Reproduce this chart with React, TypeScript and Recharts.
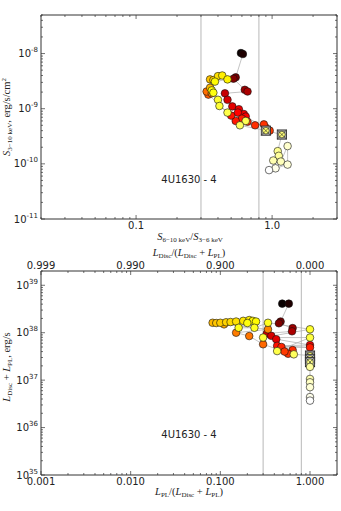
import React from "react";
import { ScatterChart, Scatter, XAxis, YAxis, ReferenceLine } from "recharts";

// upper panel: hardness S(6-10)/S(3-6) vs 3-10 keV flux (1e-9 erg/s/cm2), in time order
const hardness = [
  0.59, 0.61, 0.54, 0.52, 0.63, 0.66, 0.45, 0.47, 0.51, 0.57, 0.62, 0.64, 0.56,
  0.9, 0.96, 0.87, 0.75, 0.66, 0.6, 0.54, 0.5,
  0.34, 0.33, 0.36, 0.35, 0.35, 0.37, 0.4, 0.43, 0.47, 0.38, 0.36, 0.37,
  0.4, 0.41, 0.47, 0.64, 0.58, 0.9, 1.18, 1.1, 1.12, 1.02, 1.16, 1.3, 1.3, 1.06, 0.95,
];
const flux = [
  10.2, 9.8, 3.7, 3.5, 2.2, 2.05, 1.9, 1.45, 1.1, 0.98, 0.8, 0.72, 0.85,
  0.45, 0.4, 0.52, 0.5, 0.58, 0.66, 0.6, 0.75,
  1.8, 2.05, 1.9, 2.4, 3.4, 3.3, 3.9, 4.0, 3.4, 3.1, 2.15, 1.95,
  1.45, 1.12, 0.85, 0.6, 0.5, 0.4, 0.34, 0.17, 0.14, 0.115, 0.11, 0.21, 0.097, 0.083, 0.077,
];
const fluxPhase = [
  0.0, 0.03, 0.15, 0.17, 0.21, 0.23, 0.27, 0.29, 0.31, 0.32, 0.33, 0.34, 0.35,
  0.46, 0.45, 0.44, 0.43, 0.42, 0.41, 0.4, 0.39,
  0.5, 0.53, 0.55, 0.64, 0.66, 0.68, 0.7, 0.72, 0.73, 0.74, 0.75, 0.76,
  0.79, 0.8, 0.82, 0.83, 0.84, 0.86, 0.87, 0.89, 0.9, 0.92, 0.93, 0.95, 0.96, 0.98, 1.0,
];
const fluxBoxed = [38, 39];

// lower panel: power-law fraction vs total luminosity (1e38 erg/s)
const plFraction = [
  0.49, 0.58, 0.47, 0.45, 0.64, 0.63, 0.33, 0.37, 0.42, 1.0, 0.43, 1.0, 0.48, 0.64, 0.57, 0.52,
  0.3, 0.21, 0.15, 0.34, 0.11, 0.082, 0.09, 0.1, 0.116, 0.13, 0.15, 0.18, 0.21, 0.23, 0.25,
  0.2, 0.16, 0.24, 0.34, 1.0, 0.3, 1.0, 0.43, 0.66, 1.0, 1.0, 1.0, 1.0, 1.0, 1.0, 1.0, 1.0, 1.0,
];
const lum = [
  4.1, 4.1, 1.72, 1.58, 1.25, 1.07, 0.96, 0.86, 0.73, 0.55, 0.53, 0.49, 0.5, 0.43, 0.36, 0.4,
  0.57, 0.85, 1.0, 1.18, 1.5, 1.62, 1.6, 1.62, 1.66, 1.68, 1.72, 1.78, 1.85, 1.78, 1.72,
  1.6, 1.27, 1.27, 1.62, 1.18, 0.79, 0.79, 0.41, 0.35, 0.33, 0.28, 0.24, 0.19, 0.106, 0.09, 0.071, 0.044, 0.037,
];
const lumPhase = [
  0.0, 0.03, 0.15, 0.17, 0.21, 0.23, 0.27, 0.29, 0.31, 0.33, 0.39, 0.41, 0.42, 0.43, 0.44, 0.45,
  0.52, 0.54, 0.55, 0.56, 0.62, 0.64, 0.66, 0.67, 0.68, 0.69, 0.7, 0.71, 0.72, 0.73, 0.74,
  0.76, 0.77, 0.78, 0.78, 0.79, 0.8, 0.81, 0.82, 0.84, 0.86, 0.87, 0.88, 0.9, 0.92, 0.94, 0.96, 0.98, 1.0,
];
const lumBoxed = [40, 41, 42];

const stateEdges = [0.3, 0.8];
const topXMajor = [0.1, 1];
const topYMajor = [1e-11, 1e-10, 1e-9, 1e-8];
const botXMajor = [0.001, 0.01, 0.1, 1];
const botYMajor = [1e35, 1e36, 1e37, 1e38, 1e39];
const sourceName = "4U1630 - 4";

const frame = "#333";
const tickFont = "'DejaVu Sans', sans-serif";
const mathFont = "'Liberation Serif', serif";

// matplotlib "hot" colormap
function hot(t: number) {
  const c = (v: number) => Math.round(Math.min(1, Math.max(0, v)) * 255);
  return `rgb(${c(0.04 + t / 0.365)},${c((t - 0.365) / 0.381)},${c((t - 0.746) / 0.254)})`;
}

function rows(xs: number[], ys: number[], scale: number, phase: number[], boxed: number[]) {
  return xs.map((x, i) => ({ x, y: ys[i] * scale, fill: hot(phase[i]), boxed: boxed.includes(i) }));
}

const topRows = rows(hardness, flux, 1e-9, fluxPhase, fluxBoxed);
const botRows = rows(plFraction, lum, 1e38, lumPhase, lumBoxed);

// majors plus 2..9 minors within a range
function logTicks(majors: number[], lo: number, hi: number) {
  const out: number[] = [];
  const first = majors[0] / 10;
  for (let d = first; d <= hi * 1.001; d *= 10) {
    for (let m = 1; m < 10; m++) {
      const v = +(m * d).toPrecision(6);
      if (v >= lo * 0.999 && v <= hi * 1.001) out.push(v);
    }
  }
  return out;
}

const isMajor = (v: number) => Math.abs(Math.log10(v) - Math.round(Math.log10(v))) < 1e-6;

function Pow10({ v }: { v: number }) {
  const e = Math.round(Math.log10(v));
  return (
    <>
      10
      <tspan dy={-5} fontSize={7}>
        {e}
      </tspan>
    </>
  );
}

function makeTick(side: "left" | "right" | "top" | "bottom", label?: (v: number) => React.ReactNode) {
  return (props: any) => {
    const { x, y, payload } = props;
    const v = payload.value;
    const major = isMajor(v);
    const len = major ? 4 : 2;
    let x2 = x;
    let y2 = y;
    if (side === "left") x2 = x + len;
    if (side === "right") x2 = x - len;
    if (side === "bottom") y2 = y - len;
    if (side === "top") y2 = y + len;
    let txt = null;
    if (major && label) {
      if (side === "left")
        txt = (
          <text x={x - 3} y={y + 3.5} textAnchor="end" fontFamily={tickFont} fontSize={10} fill="#222">
            {label(v)}
          </text>
        );
      if (side === "bottom")
        txt = (
          <text x={x} y={y + 10} textAnchor="middle" fontFamily={tickFont} fontSize={10} fill="#222">
            {label(v)}
          </text>
        );
      if (side === "top")
        txt = (
          <text x={x} y={y - 2} textAnchor="middle" fontFamily={tickFont} fontSize={10} fill="#222">
            {label(v)}
          </text>
        );
    }
    return (
      <g>
        <line x1={x} y1={y} x2={x2} y2={y2} stroke={frame} strokeWidth={0.7} />
        {txt}
      </g>
    );
  };
}

function Marker(props: any) {
  const { cx, cy, payload } = props;
  if (cx == null || cy == null) return null;
  if (payload.boxed) {
    const s = 4.6;
    return (
      <g>
        <rect x={cx - s} y={cy - s} width={2 * s} height={2 * s} fill="#a9a9a9" stroke={frame} strokeWidth={0.9} />
        <circle cx={cx} cy={cy} r={3.3} fill={payload.fill} stroke="#222" strokeWidth={0.6} />
        <line x1={cx - s} y1={cy - s} x2={cx + s} y2={cy + s} stroke="#222" strokeWidth={0.6} />
        <line x1={cx - s} y1={cy + s} x2={cx + s} y2={cy - s} stroke="#222" strokeWidth={0.6} />
      </g>
    );
  }
  return <circle cx={cx} cy={cy} r={3.8} fill={payload.fill} stroke="#111" strokeWidth={0.6} />;
}

const axisCommon = {
  type: "number" as const,
  scale: "log" as const,
  allowDataOverflow: true,
  interval: 0 as const,
  tickSize: 0,
  tickMargin: 0,
  tickLine: false,
  axisLine: { stroke: frame, strokeWidth: 1 },
};

const Sub = ({ children }: { children: React.ReactNode }) => (
  <span style={{ fontSize: 7, position: "relative", top: 2 }}>{children}</span>
);
const Sup = ({ children }: { children: React.ReactNode }) => (
  <span style={{ fontSize: 7, position: "relative", top: -4 }}>{children}</span>
);

function Title({ left, top, rotate, children }: { left: number; top: number; rotate?: boolean; children: React.ReactNode }) {
  return (
    <div
      style={{
        position: "absolute",
        left,
        top,
        transform: `translate(-50%, -50%)${rotate ? " rotate(-90deg)" : ""}`,
        whiteSpace: "nowrap",
        fontFamily: mathFont,
        fontSize: 10.5,
        lineHeight: 1,
        color: "#222",
      }}
    >
      {children}
    </div>
  );
}

const Note = ({ left, top }: { left: number; top: number }) => (
  <div
    style={{
      position: "absolute",
      left,
      top,
      transform: "translate(-50%, -50%)",
      fontFamily: tickFont,
      fontSize: 10,
      color: "#222",
      whiteSpace: "nowrap",
    }}
  >
    {sourceName}
  </div>
);

export default function App() {
  const topXDomain = [0.02, 3];
  const topYDomain = [1e-11, 5e-8];
  const botXDomain = [0.001, 2];
  const botYDomain = [1e35, 2e39];
  const topXTicks = logTicks(topXMajor, topXDomain[0], topXDomain[1]);
  const topYTicks = logTicks(topYMajor, topYDomain[0], topYDomain[1]);
  const botXTicks = logTicks(botXMajor, botXDomain[0], botXDomain[1]);
  const botYTicks = logTicks(botYMajor, botYDomain[0], botYDomain[1]);

  return (
    <div style={{ position: "absolute", left: 0, top: 0, width: 341, height: 511, background: "#fff" }}>
      <div style={{ position: "absolute", left: 0, top: 0 }}>
        <ScatterChart width={341} height={250} margin={{ top: 15, right: 4, bottom: 0, left: 0 }}>
          <XAxis {...axisCommon} xAxisId="b" dataKey="x" domain={topXDomain} ticks={topXTicks} height={31}
            tick={makeTick("bottom", (v) => v.toFixed(1))} />
          <XAxis {...axisCommon} xAxisId="t" dataKey="x" orientation="top" mirror domain={topXDomain} ticks={topXTicks}
            height={1} tick={makeTick("top")} />
          <YAxis {...axisCommon} yAxisId="l" dataKey="y" domain={topYDomain} ticks={topYTicks} width={41}
            tick={makeTick("left", (v) => <Pow10 v={v} />)} />
          <YAxis {...axisCommon} yAxisId="r" dataKey="y" orientation="right" mirror domain={topYDomain} ticks={topYTicks}
            width={1} tick={makeTick("right")} />
          {stateEdges.map((e) => (
            <ReferenceLine key={e} xAxisId="b" yAxisId="l" x={e} stroke="#b8b8b8" strokeWidth={1} />
          ))}
          <Scatter xAxisId="b" yAxisId="l" data={topRows} shape={Marker} isAnimationActive={false}
            line={{ stroke: "#aaa", strokeWidth: 0.7 }} lineJointType="linear" />
        </ScatterChart>
      </div>

      <div style={{ position: "absolute", left: 0, top: 240 }}>
        <ScatterChart width={341} height={271} margin={{ top: 10, right: 4, bottom: 0, left: 0 }}>
          <XAxis {...axisCommon} xAxisId="b" dataKey="x" domain={botXDomain} ticks={botXTicks} height={36}
            tick={makeTick("bottom", (v) => v.toFixed(3))} />
          <XAxis {...axisCommon} xAxisId="t" dataKey="x" orientation="top" domain={botXDomain} ticks={botXTicks}
            height={21} tick={makeTick("top", (v) => (1 - v).toFixed(3))} />
          <YAxis {...axisCommon} yAxisId="l" dataKey="y" domain={botYDomain} ticks={botYTicks} width={41}
            tick={makeTick("left", (v) => <Pow10 v={v} />)} />
          <YAxis {...axisCommon} yAxisId="r" dataKey="y" orientation="right" mirror domain={botYDomain} ticks={botYTicks}
            width={1} tick={makeTick("right")} />
          {stateEdges.map((e) => (
            <ReferenceLine key={e} xAxisId="b" yAxisId="l" x={e} stroke="#b8b8b8" strokeWidth={1} />
          ))}
          <Scatter xAxisId="b" yAxisId="l" data={botRows} shape={Marker} isAnimationActive={false}
            line={{ stroke: "#aaa", strokeWidth: 0.7 }} lineJointType="linear" />
        </ScatterChart>
      </div>

      <Title left={7} top={117} rotate>
        <i>S</i>
        <Sub>3−10 keV</Sub>, erg/s/cm<Sup>2</Sup>
      </Title>
      <Title left={190} top={237}>
        <i>S</i>
        <Sub>6−10 keV</Sub>/<i>S</i>
        <Sub>3−6 keV</Sub>
      </Title>
      <Note left={189} top={179} />

      <Title left={189} top={253}>
        <i>L</i>
        <Sub>Disc</Sub>/(<i>L</i>
        <Sub>Disc</Sub> + <i>L</i>
        <Sub>PL</Sub>)
      </Title>
      <Title left={7} top={367} rotate>
        <i>L</i>
        <Sub>Disc</Sub> + <i>L</i>
        <Sub>PL</Sub>, erg/s
      </Title>
      <Title left={189} top={492}>
        <i>L</i>
        <Sub>PL</Sub>/(<i>L</i>
        <Sub>Disc</Sub> + <i>L</i>
        <Sub>PL</Sub>)
      </Title>
      <Note left={189} top={434} />
    </div>
  );
}
